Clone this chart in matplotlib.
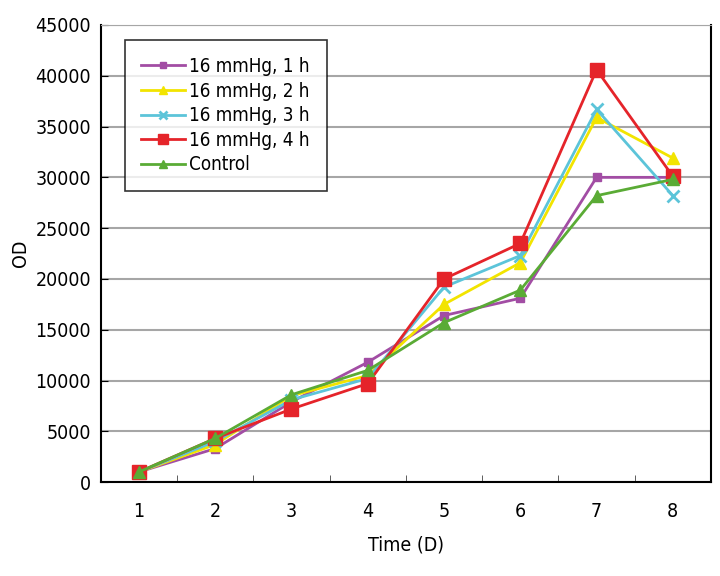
import matplotlib
matplotlib.use("Agg")
import matplotlib.pyplot as plt
from matplotlib.ticker import MultipleLocator

plt.rcParams['font.family'] = ['DejaVu Sans']
plt.rcParams['font.stretch'] = 'condensed'

days = [1, 2, 3, 4, 5, 6, 7, 8]
h1 = [1000, 3300, 7900, 11800, 16400, 18100, 30000, 30000]
h2 = [1000, 3700, 8500, 10500, 17500, 21600, 35900, 31900]
h3 = [1000, 4000, 8100, 10200, 19200, 22300, 36700, 28200]
h4 = [1000, 4300, 7200, 9700, 20000, 23500, 40600, 30100]
ctrl = [1000, 4300, 8600, 11000, 15700, 18900, 28200, 29800]
labels = ["16 mmHg, 1 h", "16 mmHg, 2 h", "16 mmHg, 3 h", "16 mmHg, 4 h", "Control"]

fig = plt.figure(figsize=(7.2, 5.76), dpi=100)
ax = fig.add_axes([0.140, 0.163, 0.8475, 0.7936])

ax.plot(days, h1, color='#a24da4', marker='s', markersize=6, lw=2, label=labels[0])
ax.plot(days, h2, color='#f2e400', marker='^', markersize=8, lw=2, label=labels[1])
ax.plot(days, h3, color='#5cc4d9', marker='x', markersize=9, mew=2, lw=2, label=labels[2])
ax.plot(days, h4, color='#e5242a', marker='s', markersize=10, lw=2, label=labels[3])
ax.plot(days, ctrl, color='#5aab35', marker='^', markersize=9, lw=2, label=labels[4])

ax.set_xlim(0.5, 8.5)
ax.set_ylim(0, 45000)
ax.set_xticks(days)
ax.set_xticks([d + 0.5 for d in range(0, 8)], minor=True)
ax.yaxis.set_major_locator(MultipleLocator(5000))
ax.grid(axis='y', color='#a6a6a6', lw=1.5)
ax.set_axisbelow(True)
ax.tick_params(axis='x', which='major', length=0, labelsize=14, pad=14)
ax.tick_params(axis='x', which='minor', length=5, direction='in', color='#444444')
ax.tick_params(axis='y', length=5, direction='in', labelsize=14, pad=7)
for s in ['left', 'bottom', 'right']:
    ax.spines[s].set_color('black')
    ax.spines[s].set_linewidth(1.5)
ax.spines['top'].set_color('#a6a6a6')
ax.set_xlabel('Time (D)', fontsize=14, labelpad=11)
ax.set_ylabel('OD', fontsize=14, labelpad=4)

leg = ax.legend(loc='upper left', bbox_to_anchor=(0.039, 0.967), borderaxespad=0,
                fontsize=13.5, frameon=True, fancybox=False, edgecolor='black',
                handlelength=2.3, borderpad=0.9, labelspacing=0.3,
                handletextpad=0.25, markerscale=0.7)
leg.get_frame().set_linewidth(1.2)

fig.savefig('out.png', dpi=100)
